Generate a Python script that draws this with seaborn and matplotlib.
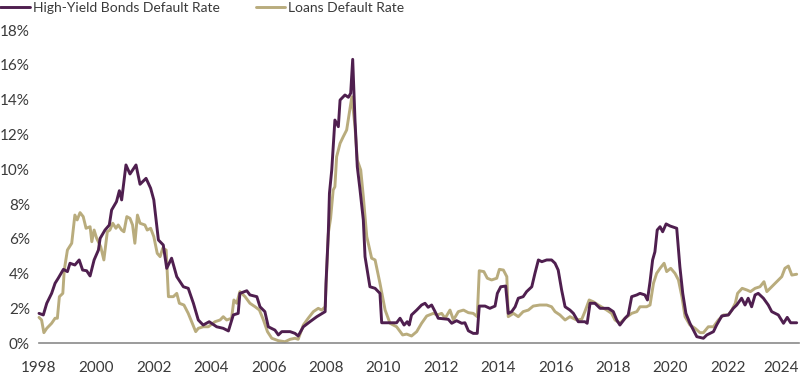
import numpy as np
import pandas as pd
import matplotlib
matplotlib.use("Agg")
import matplotlib.pyplot as plt
import matplotlib.transforms as mtransforms
import seaborn as sns

# values (decimal year, % default rate)
hy_years = [1998.0, 1998.15, 1998.27, 1998.44, 1998.56, 1998.67, 1998.85, 1998.99, 1999.08, 1999.25,
            1999.4, 1999.52, 1999.66, 1999.78, 1999.92, 2000.07, 2000.13, 2000.3, 2000.45, 2000.53,
            2000.7, 2000.8, 2000.88, 2001.03, 2001.17, 2001.38, 2001.52, 2001.73, 2001.89, 2002.0,
            2002.16, 2002.33, 2002.45, 2002.62, 2002.8, 2003.03, 2003.2, 2003.38, 2003.55, 2003.72,
            2003.93, 2004.19, 2004.42, 2004.6, 2004.77, 2004.94, 2005.0, 2005.24, 2005.35, 2005.59,
            2005.7, 2005.87, 2005.99, 2006.22, 2006.34, 2006.46, 2006.75, 2006.92, 2007.03, 2007.21,
            2007.44, 2007.68, 2007.97, 2008.0, 2008.08, 2008.12, 2008.2, 2008.31, 2008.43, 2008.49,
            2008.66, 2008.78, 2008.86, 2008.93, 2009.01, 2009.09, 2009.18, 2009.3, 2009.36, 2009.53,
            2009.71, 2009.88, 2009.94, 2010.46, 2010.58, 2010.72, 2010.83, 2010.9, 2010.98, 2011.16,
            2011.33, 2011.45, 2011.56, 2011.68, 2011.8, 2011.91, 2012.26, 2012.38, 2012.55, 2012.73,
            2012.84, 2012.96, 2013.13, 2013.27, 2013.34, 2013.54, 2013.71, 2013.89, 2013.97, 2014.09,
            2014.26, 2014.35, 2014.47, 2014.59, 2014.7, 2014.87, 2014.99, 2015.17, 2015.28, 2015.4,
            2015.52, 2015.69, 2015.86, 2015.98, 2016.09, 2016.21, 2016.33, 2016.5, 2016.62, 2016.79,
            2017.02, 2017.1, 2017.2, 2017.37, 2017.55, 2017.84, 2018.01, 2018.13, 2018.24, 2018.42,
            2018.53, 2018.65, 2018.83, 2018.94, 2019.11, 2019.2, 2019.29, 2019.38, 2019.46, 2019.54,
            2019.64, 2019.73, 2019.85, 2019.99, 2020.22, 2020.33, 2020.43, 2020.54, 2020.68, 2020.8,
            2020.92, 2021.15, 2021.27, 2021.5, 2021.61, 2021.79, 2022.02, 2022.19, 2022.31, 2022.48,
            2022.6, 2022.71, 2022.83, 2022.95, 2023.06, 2023.24, 2023.41, 2023.53, 2023.76, 2023.94,
            2024.07, 2024.19, 2024.4]
hy_rates = [1.72, 1.63, 2.3, 2.87, 3.45, 3.74, 4.25, 4.12, 4.6, 4.5,
            4.79, 4.21, 4.17, 3.87, 4.79, 5.36, 6.03, 6.51, 6.8, 7.66,
            8.14, 8.77, 8.24, 10.25, 9.73, 10.25, 9.14, 9.48, 8.91, 8.24,
            5.94, 5.65, 4.31, 4.89, 3.83, 3.25, 3.16, 2.3, 1.34, 1.05,
            1.24, 0.95, 0.86, 0.71, 1.63, 1.72, 2.87, 3.02, 2.78, 2.68,
            2.1, 1.82, 0.95, 0.76, 0.48, 0.67, 0.67, 0.57, 0.42, 0.95,
            1.24, 1.53, 1.82, 3.45, 6.32, 8.62, 9.96, 12.83, 12.45, 13.98,
            14.27, 14.14, 14.37, 16.32, 12.83, 10.15, 8.9, 7.09, 4.98, 3.25,
            3.16, 2.87, 1.18, 1.18, 1.44, 1.05, 1.24, 1.05, 1.63, 1.91,
            2.2, 2.3, 2.07, 2.2, 1.82, 1.44, 1.38, 1.15, 1.3, 1.15,
            1.18, 0.72, 0.57, 0.57, 2.14, 2.14, 2.01, 2.14, 2.87, 3.25,
            3.29, 1.72, 1.82, 2.1, 2.59, 2.68, 2.97, 3.25, 4.02, 4.79,
            4.69, 4.79, 4.79, 4.6, 4.21, 3.06, 2.1, 1.91, 1.72, 1.24,
            1.24, 1.15, 2.3, 2.3, 2.01, 2.01, 1.82, 1.34, 1.05, 1.44,
            1.63, 2.68, 2.78, 2.87, 2.78, 2.49, 3.54, 4.79, 5.26, 6.51,
            6.7, 6.41, 6.86, 6.74, 6.61, 4.4, 2.87, 1.72, 1.15, 0.76,
            0.38, 0.29, 0.48, 0.67, 1.05, 1.57, 1.63, 2.01, 2.2, 2.59,
            2.2, 2.59, 2.1, 2.78, 2.87, 2.59, 2.2, 1.82, 1.63, 1.15,
            1.49, 1.18, 1.18]

loan_years = [1998.0, 1998.09, 1998.17, 1998.27, 1998.44, 1998.56, 1998.64, 1998.71, 1998.83, 1998.88,
              1998.99, 1999.14, 1999.25, 1999.33, 1999.43, 1999.54, 1999.64, 1999.78, 1999.84, 1999.92,
              2000.01, 2000.15, 2000.26, 2000.38, 2000.47, 2000.57, 2000.68, 2000.76, 2000.88, 2000.96,
              2001.06, 2001.17, 2001.26, 2001.34, 2001.43, 2001.52, 2001.69, 2001.77, 2001.89, 2002.0,
              2002.12, 2002.22, 2002.31, 2002.43, 2002.51, 2002.68, 2002.8, 2002.89, 2003.05, 2003.2,
              2003.32, 2003.46, 2003.55, 2003.72, 2003.9, 2004.13, 2004.31, 2004.42, 2004.54, 2004.71,
              2004.79, 2004.89, 2005.0, 2005.18, 2005.35, 2005.53, 2005.68, 2005.82, 2005.96, 2006.11,
              2006.34, 2006.57, 2006.75, 2006.92, 2007.03, 2007.21, 2007.38, 2007.56, 2007.73, 2007.85,
              2007.97, 2008.08, 2008.16, 2008.25, 2008.31, 2008.37, 2008.49, 2008.6, 2008.72, 2008.83,
              2008.9, 2009.01, 2009.09, 2009.21, 2009.3, 2009.42, 2009.59, 2009.71, 2009.88, 2010.06,
              2010.23, 2010.46, 2010.67, 2010.81, 2010.98, 2011.16, 2011.33, 2011.51, 2011.74, 2011.88,
              2012.03, 2012.15, 2012.32, 2012.44, 2012.61, 2012.79, 2012.96, 2013.13, 2013.27, 2013.34,
              2013.5, 2013.62, 2013.77, 2013.95, 2014.04, 2014.18, 2014.3, 2014.35, 2014.53, 2014.7,
              2014.87, 2015.05, 2015.22, 2015.45, 2015.69, 2015.86, 2015.98, 2016.15, 2016.33, 2016.5,
              2016.73, 2016.91, 2017.02, 2017.17, 2017.31, 2017.49, 2017.78, 2017.95, 2018.07, 2018.24,
              2018.42, 2018.65, 2018.83, 2018.94, 2019.17, 2019.29, 2019.41, 2019.52, 2019.64, 2019.78,
              2019.87, 2020.01, 2020.16, 2020.28, 2020.4, 2020.51, 2020.68, 2020.86, 2021.03, 2021.15,
              2021.32, 2021.5, 2021.67, 2021.85, 2022.02, 2022.14, 2022.26, 2022.34, 2022.5, 2022.67,
              2022.79, 2022.95, 2023.12, 2023.26, 2023.36, 2023.53, 2023.71, 2023.88, 2023.99, 2024.11,
              2024.23, 2024.4]
loan_rates = [1.49, 1.34, 0.61, 0.86, 1.15, 1.44, 1.44, 2.68, 2.87, 4.21,
              5.36, 5.75, 7.37, 7.09, 7.51, 7.28, 6.61, 6.7, 5.84, 6.51,
              6.03, 5.55, 4.79, 6.41, 6.51, 6.9, 6.61, 6.8, 6.51, 6.41,
              7.28, 7.18, 6.8, 5.75, 7.37, 6.9, 6.8, 6.51, 6.61, 6.13,
              5.17, 4.98, 5.46, 5.36, 2.68, 2.68, 2.87, 2.3, 2.2, 1.72,
              1.24, 0.67, 0.86, 0.95, 0.95, 1.24, 1.34, 1.53, 1.34, 1.44,
              2.49, 2.3, 2.97, 2.68, 2.3, 2.1, 1.91, 1.34, 0.67, 0.29,
              0.15, 0.09, 0.23, 0.29, 0.23, 1.05, 1.44, 1.82, 2.01, 1.91,
              2.1, 6.32, 7.18, 8.81, 9.0, 10.72, 11.49, 11.87, 12.26, 13.41,
              14.17, 12.45, 10.53, 9.96, 8.43, 6.13, 4.89, 4.79, 3.45, 1.91,
              1.15, 0.95, 0.48, 0.53, 0.42, 0.67, 1.15, 1.57, 1.72, 1.63,
              1.72, 1.44, 1.91, 1.34, 1.82, 1.91, 1.76, 1.72, 1.53, 4.17,
              4.12, 3.74, 3.64, 3.74, 4.25, 4.21, 3.83, 1.53, 1.72, 1.53,
              1.82, 1.91, 2.14, 2.2, 2.2, 2.1, 1.82, 1.63, 1.34, 1.53,
              1.34, 1.38, 1.82, 2.49, 2.39, 2.2, 1.91, 1.72, 1.34, 1.15,
              1.44, 1.72, 1.82, 2.1, 2.1, 2.2, 3.45, 4.02, 4.31, 4.6,
              4.12, 4.31, 4.02, 3.64, 2.68, 1.53, 1.05, 0.86, 0.61, 0.61,
              0.95, 0.95, 1.34, 1.63, 1.63, 1.91, 2.3, 2.87, 3.16, 3.06,
              2.97, 3.16, 3.25, 3.54, 2.97, 3.25, 3.54, 3.83, 4.31, 4.44,
              3.92, 3.97]

series_names = ["High-Yield Bonds Default Rate", "Loans Default Rate"]
series_colors = ["#4f1f4f", "#b9ac7d"]
year_ticks = list(range(1998, 2025, 2))
rate_ticks = list(range(0, 19, 2))

sns.set_theme(style="white")
plt.rcParams["font.family"] = ["Lato", "DejaVu Sans"]

df = pd.concat([
    pd.DataFrame({"year": hy_years, "rate": hy_rates, "series": series_names[0]}),
    pd.DataFrame({"year": loan_years, "rate": loan_rates, "series": series_names[1]}),
])

fig = plt.figure(figsize=(8, 3.75), dpi=100)
ax = fig.add_axes([39 / 800, 1 - 343.3 / 375, 759.7 / 800, 313.2 / 375])

# draw loans first so bonds sit on top
for name, color, z in [(series_names[1], series_colors[1], 2), (series_names[0], series_colors[0], 3)]:
    sub = df[df["series"] == name]
    sns.lineplot(data=sub, x="year", y="rate", color=color, linewidth=2.1,
                 sort=False, ax=ax, label=name, zorder=z)

ax.set_xlim(1998, 2024.47)
ax.set_ylim(0, 18)
ax.set_xlabel("")
ax.set_ylabel("")
for line in ax.get_lines():
    line.set_clip_on(False)

ax.set_xticks(year_ticks)
ax.set_xticklabels([str(y) for y in year_ticks], fontsize=11, color="#3a3a3a")
ax.set_yticks(rate_ticks)
ax.set_yticklabels([f"{v}%" for v in rate_ticks], fontsize=11, color="#3a3a3a")
ax.tick_params(axis="x", direction="out", length=5, width=1, color="#8a8a8a", pad=8)
ax.tick_params(axis="y", length=0, pad=6.5)

# nudge the last year label so it stays inside the canvas
last = ax.get_xticklabels()[-1]
last.set_transform(last.get_transform() + mtransforms.ScaledTranslation(-4 / 100, 0, fig.dpi_scale_trans))

for side in ["top", "right", "left"]:
    ax.spines[side].set_visible(False)
ax.spines["bottom"].set_color("#8a8a8a")
ax.spines["bottom"].set_linewidth(1.2)

handles, labels = ax.get_legend_handles_labels()
order = [labels.index(n) for n in series_names]
ax.get_legend().remove()
fig.legend([handles[i] for i in order], [labels[i] for i in order],
           loc="upper left", bbox_to_anchor=(0.0, 0.994), ncol=2, frameon=False,
           fontsize=10, handlelength=2.15, handletextpad=0.2, columnspacing=2.6,
           borderpad=0.0, borderaxespad=0.0, labelcolor="#3a3a3a")

fig.savefig("out.png", dpi=100)
